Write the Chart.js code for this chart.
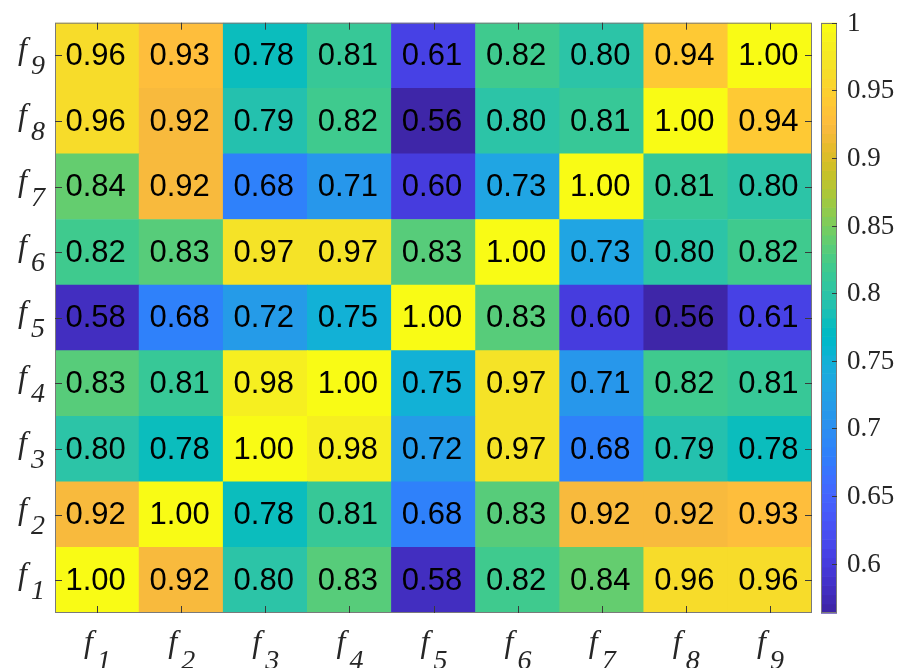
<!DOCTYPE html>
<html>
<head>
<meta charset="utf-8">
<script src="https://cdn.jsdelivr.net/npm/chart.js@4/dist/chart.umd.min.js"></script>
<style>
  html, body { margin: 0; padding: 0; background: #ffffff; }
  #wrap { width: 900px; height: 668px; position: relative; }
</style>
</head>
<body>
<div id="wrap"><canvas id="c" width="900" height="668"></canvas></div>
<script>
// Feature names (f with subscript index)
const features = ['f1', 'f2', 'f3', 'f4', 'f5', 'f6', 'f7', 'f8', 'f9'];

// Similarity between features; each row is one feature, columns follow `features`
const rowF1 = [1.00, 0.92, 0.80, 0.83, 0.58, 0.82, 0.84, 0.96, 0.96];
const rowF2 = [0.92, 1.00, 0.78, 0.81, 0.68, 0.83, 0.92, 0.92, 0.93];
const rowF3 = [0.80, 0.78, 1.00, 0.98, 0.72, 0.97, 0.68, 0.79, 0.78];
const rowF4 = [0.83, 0.81, 0.98, 1.00, 0.75, 0.97, 0.71, 0.82, 0.81];
const rowF5 = [0.58, 0.68, 0.72, 0.75, 1.00, 0.83, 0.60, 0.56, 0.61];
const rowF6 = [0.82, 0.83, 0.97, 0.97, 0.83, 1.00, 0.73, 0.80, 0.82];
const rowF7 = [0.84, 0.92, 0.68, 0.71, 0.60, 0.73, 1.00, 0.81, 0.80];
const rowF8 = [0.96, 0.92, 0.79, 0.82, 0.56, 0.80, 0.81, 1.00, 0.94];
const rowF9 = [0.96, 0.93, 0.78, 0.81, 0.61, 0.82, 0.80, 0.94, 1.00];
const rows = [rowF1, rowF2, rowF3, rowF4, rowF5, rowF6, rowF7, rowF8, rowF9];

// Colour limits and colour-bar ticks
const cLim = [0.5634, 1.0];
const cbTicks = [0.6, 0.65, 0.7, 0.75, 0.8, 0.85, 0.9, 0.95, 1.0];
const cbLabels = ['0.6', '0.65', '0.7', '0.75', '0.8', '0.85', '0.9', '0.95', '1'];

// parula, 64 entries
const PARULA = [
[0.2422,0.1504,0.6603],[0.2504,0.1650,0.7076],[0.2578,0.1818,0.7511],[0.2647,0.1978,0.7952],
[0.2706,0.2147,0.8364],[0.2751,0.2342,0.8710],[0.2783,0.2559,0.8991],[0.2803,0.2782,0.9221],
[0.2813,0.3006,0.9414],[0.2810,0.3228,0.9579],[0.2795,0.3447,0.9717],[0.2760,0.3667,0.9829],
[0.2699,0.3892,0.9906],[0.2602,0.4123,0.9952],[0.2440,0.4358,0.9988],[0.2206,0.4603,0.9973],
[0.1963,0.4847,0.9892],[0.1834,0.5074,0.9798],[0.1786,0.5289,0.9682],[0.1764,0.5499,0.9520],
[0.1687,0.5703,0.9359],[0.1540,0.5902,0.9218],[0.1460,0.6091,0.9079],[0.1380,0.6276,0.8973],
[0.1248,0.6459,0.8883],[0.1113,0.6635,0.8763],[0.0952,0.6798,0.8598],[0.0689,0.6948,0.8394],
[0.0297,0.7082,0.8163],[0.0036,0.7203,0.7917],[0.0067,0.7312,0.7660],[0.0433,0.7411,0.7394],
[0.0964,0.7500,0.7120],[0.1408,0.7584,0.6842],[0.1717,0.7670,0.6554],[0.1938,0.7758,0.6251],
[0.2161,0.7843,0.5923],[0.2470,0.7918,0.5567],[0.2906,0.7973,0.5188],[0.3406,0.8008,0.4789],
[0.3909,0.8029,0.4354],[0.4456,0.8024,0.3909],[0.5044,0.7993,0.3480],[0.5616,0.7942,0.3045],
[0.6174,0.7876,0.2612],[0.6720,0.7793,0.2227],[0.7242,0.7698,0.1910],[0.7738,0.7598,0.1646],
[0.8203,0.7498,0.1535],[0.8634,0.7406,0.1596],[0.9035,0.7330,0.1774],[0.9393,0.7288,0.2100],
[0.9728,0.7298,0.2394],[0.9956,0.7434,0.2371],[0.9970,0.7659,0.2199],[0.9952,0.7893,0.2028],
[0.9892,0.8136,0.1885],[0.9786,0.8386,0.1766],[0.9676,0.8639,0.1643],[0.9610,0.8890,0.1537],
[0.9597,0.9135,0.1423],[0.9628,0.9373,0.1265],[0.9691,0.9606,0.1064],[0.9769,0.9839,0.0805]
];

function rgbOf(idx) {
  const c = PARULA[idx];
  return 'rgb(' + Math.round(c[0] * 255) + ',' + Math.round(c[1] * 255) + ',' + Math.round(c[2] * 255) + ')';
}
function colorFor(v) {
  let idx = Math.floor((v - cLim[0]) / (cLim[1] - cLim[0]) * PARULA.length);
  idx = Math.max(0, Math.min(PARULA.length - 1, idx));
  return rgbOf(idx);
}

const FRAME = '#7a7a7a';
const TICK = '#3a3a3a';
const LABEL = '#262626';
const SERIF = '"Liberation Serif", "Times New Roman", serif';
const SANS = '"Liberation Sans", Arial, sans-serif';

// Draws "f" followed by an italic subscript index
function drawSubLabel(ctx, name, x, baseF, baseSub) {
  const idx = name.slice(1);
  ctx.fillStyle = LABEL;
  ctx.textAlign = 'left';
  ctx.textBaseline = 'alphabetic';
  ctx.font = 'italic 32px ' + SERIF;
  ctx.fillText('f', x, baseF);
  ctx.font = 'italic 28px ' + SERIF;
  ctx.fillText(idx, x + 13, baseSub);
}

const heatmapDecor = {
  id: 'heatmapDecor',
  afterDatasetsDraw(chart) {
    const ctx = chart.ctx;
    const area = chart.chartArea;
    const xs = chart.scales.x;
    const ys = chart.scales.y;
    const cb = chart.scales.cb;

    // value labels in each cell
    ctx.save();
    ctx.fillStyle = '#000000';
    ctx.font = '31px ' + SANS;
    ctx.textAlign = 'center';
    ctx.textBaseline = 'middle';
    chart.data.datasets.forEach((ds, r) => {
      const meta = chart.getDatasetMeta(r);
      meta.data.forEach((bar, c) => {
        const cy = (bar.y + bar.base) / 2;
        ctx.fillText(rows[r][c].toFixed(2), bar.x - 1.5, cy + 1);
      });
    });
    ctx.restore();

    // axes box
    ctx.save();
    ctx.strokeStyle = FRAME;
    ctx.lineWidth = 1;
    ctx.strokeRect(area.left + 0.5, area.top + 0.5, area.right - area.left - 1, area.bottom - area.top - 1);

    // inward tick marks on all four sides
    ctx.strokeStyle = TICK;
    ctx.beginPath();
    features.forEach((name, i) => {
      const px = Math.round(xs.getPixelForValue(i)) + 0.5;
      ctx.moveTo(px, area.bottom); ctx.lineTo(px, area.bottom - 7);
      ctx.moveTo(px, area.top); ctx.lineTo(px, area.top + 7);
      const py = Math.round(ys.getPixelForValue(i + 1)) + 0.5;
      ctx.moveTo(area.left, py); ctx.lineTo(area.left + 7, py);
      ctx.moveTo(area.right, py); ctx.lineTo(area.right - 7, py);
    });
    ctx.stroke();

    // tick labels
    features.forEach((name, i) => {
      const px = xs.getPixelForValue(i);
      drawSubLabel(ctx, name, px - 13, 652, 669);
      const py = ys.getPixelForValue(i + 1);
      drawSubLabel(ctx, name, 18, py + 4, py + 19);
    });

    // colour bar
    const cbLeft = 821, cbRight = 837;
    const n = PARULA.length;
    for (let k = 0; k < n; k++) {
      const v0 = cLim[0] + (cLim[1] - cLim[0]) * k / n;
      const v1 = cLim[0] + (cLim[1] - cLim[0]) * (k + 1) / n;
      const y0 = cb.getPixelForValue(v0);
      const y1 = cb.getPixelForValue(v1);
      ctx.fillStyle = rgbOf(k);
      ctx.fillRect(cbLeft, y1, cbRight - cbLeft, y0 - y1 + 0.6);
    }
    const cbTop = cb.getPixelForValue(cLim[1]);
    const cbBottom = cb.getPixelForValue(cLim[0]);
    ctx.strokeStyle = FRAME;
    ctx.strokeRect(cbLeft + 0.5, Math.round(cbTop) + 0.5, cbRight - cbLeft - 1, Math.round(cbBottom - cbTop) - 1);
    ctx.strokeStyle = TICK;
    ctx.beginPath();
    cbTicks.forEach(v => {
      const py = Math.round(cb.getPixelForValue(v)) + 0.5;
      ctx.moveTo(cbRight, py); ctx.lineTo(cbRight - 5, py);
    });
    ctx.stroke();
    ctx.fillStyle = LABEL;
    ctx.font = '27px ' + SERIF;
    ctx.textAlign = 'left';
    ctx.textBaseline = 'middle';
    cbTicks.forEach((v, i) => {
      ctx.fillText(cbLabels[i], 847, cb.getPixelForValue(v) + 1);
    });
    ctx.restore();
  }
};

const datasets = rows.map((row, r) => ({
  label: features[r],
  data: row.map(() => [r + 0.5, r + 1.5]),
  backgroundColor: row.map(colorFor),
  borderWidth: 0,
  grouped: false,
  barPercentage: 1,
  categoryPercentage: 1
}));

new Chart(document.getElementById('c'), {
  type: 'bar',
  data: { labels: features, datasets },
  options: {
    responsive: false,
    animation: false,
    devicePixelRatio: 1,
    layout: { padding: { left: 55, right: 88, top: 22.7, bottom: 55 } },
    plugins: { legend: { display: false }, tooltip: { enabled: false } },
    scales: {
      x: { type: 'category', offset: true, display: false },
      y: { type: 'linear', min: 0.5, max: 9.5, display: false },
      cb: { type: 'linear', position: 'right', min: cLim[0], max: cLim[1], display: false }
    }
  },
  plugins: [heatmapDecor]
});
</script>
</body>
</html>
